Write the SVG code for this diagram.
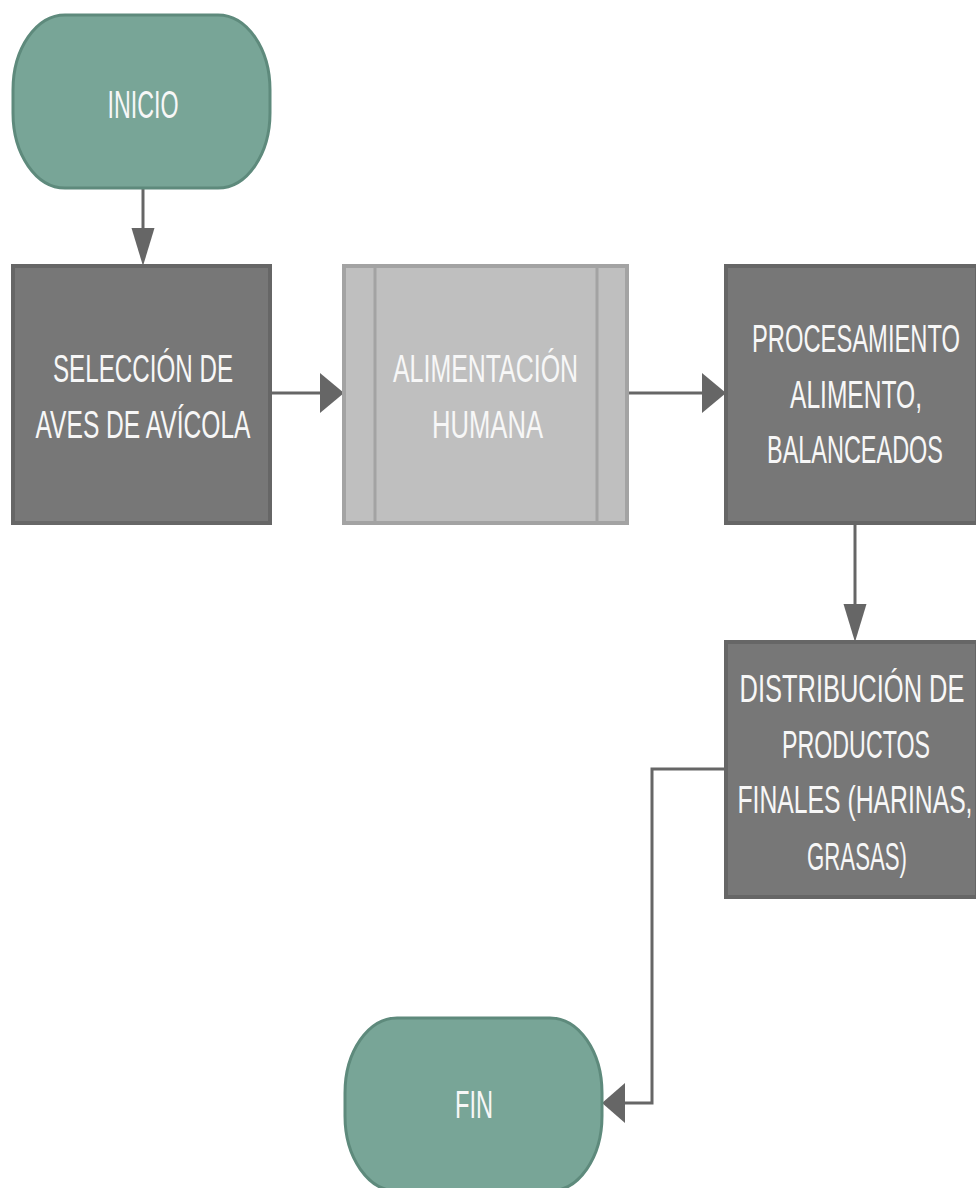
<svg xmlns="http://www.w3.org/2000/svg" width="976" height="1188" viewBox="0 0 976 1188">
<style>
.term{fill:#78a597;stroke:#5e8a7c;stroke-width:3}
.proc{fill:#777777;stroke:#666666;stroke-width:4}
.sub{fill:#bfbfbf;stroke:#a3a3a3;stroke-width:4}
.subl{stroke:#a3a3a3;stroke-width:3;fill:none}
.t{font-family:"Liberation Sans",Arial,sans-serif;font-size:23px;fill:#f7f7f7;text-anchor:middle}
.c{fill:none;stroke:#666666;stroke-width:3}
.ah{fill:#666666}
</style>
<rect width="976" height="1188" fill="#ffffff"/>
<g id="connectors">
<path class="c" d="M143,188 V232"/>
<polygon class="ah" points="131.5,228 154.5,228 143,266"/>
<path class="c" d="M270,393 H324"/>
<polygon class="ah" points="320,373 320,413 344,393"/>
<path class="c" d="M627,393 H706"/>
<polygon class="ah" points="702,373 702,413 726,393"/>
<path class="c" d="M855,523 V608"/>
<polygon class="ah" points="843.5,604 866.5,604 855,642"/>
<path class="c" d="M726,769 H652 V1103 H621"/>
<polygon class="ah" points="625,1083 625,1123 602,1103"/>
</g>
<g id="inicio">
<rect class="term" x="13" y="15" width="257" height="173" rx="52" ry="75"/>
<text class="t" transform="translate(143,118) scale(1,1.7)" textLength="71" lengthAdjust="spacingAndGlyphs">INICIO</text>
</g>
<g id="seleccion">
<rect class="proc" x="13" y="266" width="257" height="257"/>
<text class="t" transform="translate(143,382) scale(1,1.7)" textLength="180" lengthAdjust="spacingAndGlyphs">SELECCIÓN DE</text>
<text class="t" transform="translate(143,438) scale(1,1.7)" textLength="215" lengthAdjust="spacingAndGlyphs">AVES DE AVÍCOLA</text>
</g>
<g id="alimentacion">
<rect class="sub" x="344" y="266" width="283" height="257"/>
<line class="subl" x1="375" y1="266" x2="375" y2="523"/>
<line class="subl" x1="597" y1="266" x2="597" y2="523"/>
<text class="t" transform="translate(485.5,382) scale(1,1.7)" textLength="185" lengthAdjust="spacingAndGlyphs">ALIMENTACIÓN</text>
<text class="t" transform="translate(487.5,438) scale(1,1.7)" textLength="111" lengthAdjust="spacingAndGlyphs">HUMANA</text>
</g>
<g id="procesamiento">
<rect class="proc" x="726" y="266" width="251" height="257"/>
<text class="t" transform="translate(856,352) scale(1,1.7)" textLength="208" lengthAdjust="spacingAndGlyphs">PROCESAMIENTO</text>
<text class="t" transform="translate(856,408) scale(1,1.7)" textLength="132" lengthAdjust="spacingAndGlyphs">ALIMENTO,</text>
<text class="t" transform="translate(855,463) scale(1,1.7)" textLength="176" lengthAdjust="spacingAndGlyphs">BALANCEADOS</text>
</g>
<g id="distribucion">
<rect class="proc" x="726" y="642" width="251" height="255"/>
<text class="t" transform="translate(852,702) scale(1,1.7)" textLength="225" lengthAdjust="spacingAndGlyphs">DISTRIBUCIÓN DE</text>
<text class="t" transform="translate(856,758) scale(1,1.7)" textLength="148" lengthAdjust="spacingAndGlyphs">PRODUCTOS</text>
<text class="t" transform="translate(855,813) scale(1,1.7)" textLength="235" lengthAdjust="spacingAndGlyphs">FINALES (HARINAS,</text>
<text class="t" transform="translate(857,870) scale(1,1.7)" textLength="100" lengthAdjust="spacingAndGlyphs">GRASAS)</text>
</g>
<g id="fin">
<rect class="term" x="345" y="1018" width="257" height="173" rx="52" ry="75"/>
<text class="t" transform="translate(474,1118) scale(1,1.7)" textLength="38" lengthAdjust="spacingAndGlyphs">FIN</text>
</g>
</svg>
